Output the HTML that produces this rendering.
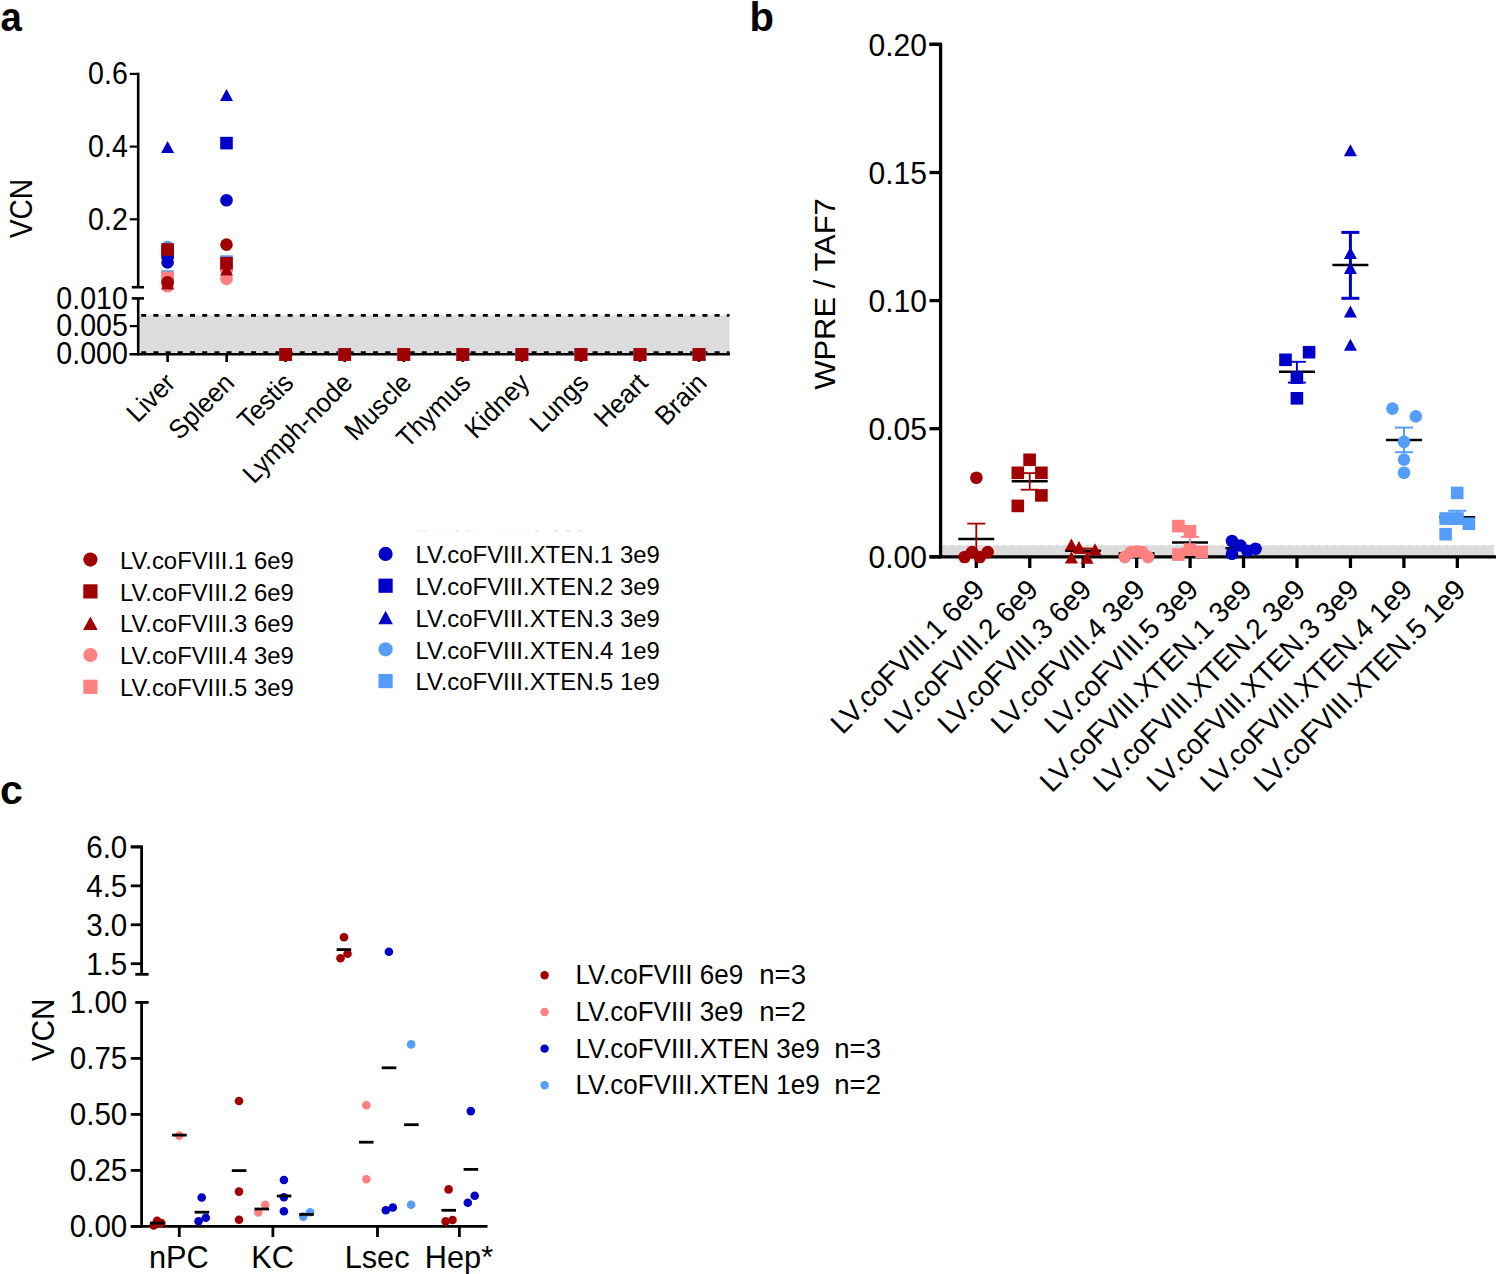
<!DOCTYPE html>
<html><head><meta charset="utf-8"><style>
html,body{margin:0;padding:0;background:#fff;}
svg{display:block;}
text{font-family:'Liberation Sans', sans-serif;}
</style></head><body>
<svg width="1496" height="1274" viewBox="0 0 1496 1274" style="font-family:'Liberation Sans', sans-serif">
<rect width="1496" height="1274" fill="#fff"/>
<text x="0" y="0" font-size="40" text-anchor="start" font-weight="bold" fill="#000" transform="translate(0.50 30.50) scale(0.9600 1.0000)">a</text>
<text x="0" y="0" font-size="29" text-anchor="middle" font-weight="normal" fill="#000" transform="translate(32.20 208.60) rotate(-90) scale(0.9700 1.0600)">VCN</text>
<rect x="139.20" y="315.3" width="590.30" height="38" fill="#dcdcdc"/>
<line x1="138.20" y1="315.40" x2="729.50" y2="315.40" stroke="#000" stroke-width="2.6" stroke-dasharray="5 7.2" stroke-dashoffset="-3"/>
<line x1="138.20" y1="352.60" x2="729.50" y2="352.60" stroke="#000" stroke-width="2.6" stroke-dasharray="5 7.2" stroke-dashoffset="-3"/>
<line x1="138.20" y1="72.70" x2="138.20" y2="287.40" stroke="#000" stroke-width="2.6" />
<line x1="138.20" y1="298.30" x2="138.20" y2="355.30" stroke="#000" stroke-width="2.6" />
<line x1="129.50" y1="354.20" x2="730.00" y2="354.20" stroke="#000" stroke-width="2.6" />
<line x1="129.80" y1="73.90" x2="138.20" y2="73.90" stroke="#000" stroke-width="2.2" />
<line x1="129.80" y1="146.60" x2="138.20" y2="146.60" stroke="#000" stroke-width="2.2" />
<line x1="129.80" y1="219.30" x2="138.20" y2="219.30" stroke="#000" stroke-width="2.2" />
<line x1="131.80" y1="287.20" x2="144.00" y2="287.20" stroke="#000" stroke-width="2.6" />
<line x1="131.80" y1="298.40" x2="144.00" y2="298.40" stroke="#000" stroke-width="2.6" />
<line x1="129.80" y1="326.10" x2="138.20" y2="326.10" stroke="#000" stroke-width="2.2" />
<line x1="167.60" y1="354.20" x2="167.60" y2="362.00" stroke="#000" stroke-width="2.6" />
<line x1="226.65" y1="354.20" x2="226.65" y2="362.00" stroke="#000" stroke-width="2.6" />
<line x1="285.70" y1="354.20" x2="285.70" y2="362.00" stroke="#000" stroke-width="2.6" />
<line x1="344.75" y1="354.20" x2="344.75" y2="362.00" stroke="#000" stroke-width="2.6" />
<line x1="403.80" y1="354.20" x2="403.80" y2="362.00" stroke="#000" stroke-width="2.6" />
<line x1="462.85" y1="354.20" x2="462.85" y2="362.00" stroke="#000" stroke-width="2.6" />
<line x1="521.90" y1="354.20" x2="521.90" y2="362.00" stroke="#000" stroke-width="2.6" />
<line x1="580.95" y1="354.20" x2="580.95" y2="362.00" stroke="#000" stroke-width="2.6" />
<line x1="640.00" y1="354.20" x2="640.00" y2="362.00" stroke="#000" stroke-width="2.6" />
<line x1="699.05" y1="354.20" x2="699.05" y2="362.00" stroke="#000" stroke-width="2.6" />
<text x="0" y="0" font-size="29" text-anchor="end" font-weight="normal" fill="#000" transform="translate(127.80 84.10) scale(0.9850 1.0650)">0.6</text>
<text x="0" y="0" font-size="29" text-anchor="end" font-weight="normal" fill="#000" transform="translate(127.80 156.80) scale(0.9850 1.0650)">0.4</text>
<text x="0" y="0" font-size="29" text-anchor="end" font-weight="normal" fill="#000" transform="translate(127.80 229.50) scale(0.9850 1.0650)">0.2</text>
<text x="0" y="0" font-size="29" text-anchor="end" font-weight="normal" fill="#000" transform="translate(127.80 308.60) scale(0.9850 1.0650)">0.010</text>
<text x="0" y="0" font-size="29" text-anchor="end" font-weight="normal" fill="#000" transform="translate(127.80 336.30) scale(0.9850 1.0650)">0.005</text>
<text x="0" y="0" font-size="29" text-anchor="end" font-weight="normal" fill="#000" transform="translate(127.80 364.40) scale(0.9850 1.0650)">0.000</text>
<text x="0" y="0" font-size="25.3" text-anchor="end" font-weight="normal" fill="#000" transform="translate(176.90 384.40) rotate(-45) scale(1.0150 1.0600)">Liver</text>
<text x="0" y="0" font-size="25.3" text-anchor="end" font-weight="normal" fill="#000" transform="translate(235.95 384.40) rotate(-45) scale(1.0150 1.0600)">Spleen</text>
<text x="0" y="0" font-size="25.3" text-anchor="end" font-weight="normal" fill="#000" transform="translate(295.00 384.40) rotate(-45) scale(1.0150 1.0600)">Testis</text>
<text x="0" y="0" font-size="25.3" text-anchor="end" font-weight="normal" fill="#000" transform="translate(354.05 384.40) rotate(-45) scale(1.0150 1.0600)">Lymph-node</text>
<text x="0" y="0" font-size="25.3" text-anchor="end" font-weight="normal" fill="#000" transform="translate(413.10 384.40) rotate(-45) scale(1.0150 1.0600)">Muscle</text>
<text x="0" y="0" font-size="25.3" text-anchor="end" font-weight="normal" fill="#000" transform="translate(472.15 384.40) rotate(-45) scale(1.0150 1.0600)">Thymus</text>
<text x="0" y="0" font-size="25.3" text-anchor="end" font-weight="normal" fill="#000" transform="translate(531.20 384.40) rotate(-45) scale(1.0150 1.0600)">Kidney</text>
<text x="0" y="0" font-size="25.3" text-anchor="end" font-weight="normal" fill="#000" transform="translate(590.25 384.40) rotate(-45) scale(1.0150 1.0600)">Lungs</text>
<text x="0" y="0" font-size="25.3" text-anchor="end" font-weight="normal" fill="#000" transform="translate(649.30 384.40) rotate(-45) scale(1.0150 1.0600)">Heart</text>
<text x="0" y="0" font-size="25.3" text-anchor="end" font-weight="normal" fill="#000" transform="translate(708.35 384.40) rotate(-45) scale(1.0150 1.0600)">Brain</text>
<rect x="161.30" y="270.20" width="12.60" height="12.60" fill="#549ef9"/>
<rect x="220.20" y="255.30" width="12.60" height="12.60" fill="#549ef9"/>
<rect x="279.40" y="348.10" width="12.60" height="12.60" fill="#549ef9"/>
<rect x="338.45" y="348.10" width="12.60" height="12.60" fill="#549ef9"/>
<rect x="397.50" y="348.10" width="12.60" height="12.60" fill="#549ef9"/>
<rect x="456.55" y="348.10" width="12.60" height="12.60" fill="#549ef9"/>
<rect x="515.60" y="348.10" width="12.60" height="12.60" fill="#549ef9"/>
<rect x="574.65" y="348.10" width="12.60" height="12.60" fill="#549ef9"/>
<rect x="633.70" y="348.10" width="12.60" height="12.60" fill="#549ef9"/>
<rect x="692.75" y="348.10" width="12.60" height="12.60" fill="#549ef9"/>
<circle cx="167.60" cy="247.00" r="6.30" fill="#549ef9"/>
<circle cx="226.50" cy="270.00" r="6.30" fill="#549ef9"/>
<circle cx="285.70" cy="354.40" r="6.30" fill="#549ef9"/>
<circle cx="344.75" cy="354.40" r="6.30" fill="#549ef9"/>
<circle cx="403.80" cy="354.40" r="6.30" fill="#549ef9"/>
<circle cx="462.85" cy="354.40" r="6.30" fill="#549ef9"/>
<circle cx="521.90" cy="354.40" r="6.30" fill="#549ef9"/>
<circle cx="580.95" cy="354.40" r="6.30" fill="#549ef9"/>
<circle cx="640.00" cy="354.40" r="6.30" fill="#549ef9"/>
<circle cx="699.05" cy="354.40" r="6.30" fill="#549ef9"/>
<polygon points="167.60,141.12 174.10,153.08 161.10,153.08" fill="#0000c8"/>
<polygon points="226.50,89.02 233.00,100.98 220.00,100.98" fill="#0000c8"/>
<polygon points="285.70,348.41 292.20,360.38 279.20,360.38" fill="#0000c8"/>
<polygon points="344.75,348.41 351.25,360.38 338.25,360.38" fill="#0000c8"/>
<polygon points="403.80,348.41 410.30,360.38 397.30,360.38" fill="#0000c8"/>
<polygon points="462.85,348.41 469.35,360.38 456.35,360.38" fill="#0000c8"/>
<polygon points="521.90,348.41 528.40,360.38 515.40,360.38" fill="#0000c8"/>
<polygon points="580.95,348.41 587.45,360.38 574.45,360.38" fill="#0000c8"/>
<polygon points="640.00,348.41 646.50,360.38 633.50,360.38" fill="#0000c8"/>
<polygon points="699.05,348.41 705.55,360.38 692.55,360.38" fill="#0000c8"/>
<rect x="161.30" y="246.50" width="12.60" height="12.60" fill="#0000c8"/>
<rect x="220.20" y="136.80" width="12.60" height="12.60" fill="#0000c8"/>
<rect x="279.40" y="348.10" width="12.60" height="12.60" fill="#0000c8"/>
<rect x="338.45" y="348.10" width="12.60" height="12.60" fill="#0000c8"/>
<rect x="397.50" y="348.10" width="12.60" height="12.60" fill="#0000c8"/>
<rect x="456.55" y="348.10" width="12.60" height="12.60" fill="#0000c8"/>
<rect x="515.60" y="348.10" width="12.60" height="12.60" fill="#0000c8"/>
<rect x="574.65" y="348.10" width="12.60" height="12.60" fill="#0000c8"/>
<rect x="633.70" y="348.10" width="12.60" height="12.60" fill="#0000c8"/>
<rect x="692.75" y="348.10" width="12.60" height="12.60" fill="#0000c8"/>
<circle cx="167.60" cy="262.40" r="6.30" fill="#0000c8"/>
<circle cx="226.50" cy="200.20" r="6.30" fill="#0000c8"/>
<circle cx="285.70" cy="354.40" r="6.30" fill="#0000c8"/>
<circle cx="344.75" cy="354.40" r="6.30" fill="#0000c8"/>
<circle cx="403.80" cy="354.40" r="6.30" fill="#0000c8"/>
<circle cx="462.85" cy="354.40" r="6.30" fill="#0000c8"/>
<circle cx="521.90" cy="354.40" r="6.30" fill="#0000c8"/>
<circle cx="580.95" cy="354.40" r="6.30" fill="#0000c8"/>
<circle cx="640.00" cy="354.40" r="6.30" fill="#0000c8"/>
<circle cx="699.05" cy="354.40" r="6.30" fill="#0000c8"/>
<rect x="161.30" y="271.50" width="12.60" height="12.60" fill="#ff8080"/>
<rect x="220.20" y="259.20" width="12.60" height="12.60" fill="#ff8080"/>
<rect x="279.40" y="348.10" width="12.60" height="12.60" fill="#ff8080"/>
<rect x="338.45" y="348.10" width="12.60" height="12.60" fill="#ff8080"/>
<rect x="397.50" y="348.10" width="12.60" height="12.60" fill="#ff8080"/>
<rect x="456.55" y="348.10" width="12.60" height="12.60" fill="#ff8080"/>
<rect x="515.60" y="348.10" width="12.60" height="12.60" fill="#ff8080"/>
<rect x="574.65" y="348.10" width="12.60" height="12.60" fill="#ff8080"/>
<rect x="633.70" y="348.10" width="12.60" height="12.60" fill="#ff8080"/>
<rect x="692.75" y="348.10" width="12.60" height="12.60" fill="#ff8080"/>
<circle cx="167.60" cy="286.30" r="6.30" fill="#ff8080"/>
<circle cx="226.50" cy="278.90" r="6.30" fill="#ff8080"/>
<circle cx="285.70" cy="354.40" r="6.30" fill="#ff8080"/>
<circle cx="344.75" cy="354.40" r="6.30" fill="#ff8080"/>
<circle cx="403.80" cy="354.40" r="6.30" fill="#ff8080"/>
<circle cx="462.85" cy="354.40" r="6.30" fill="#ff8080"/>
<circle cx="521.90" cy="354.40" r="6.30" fill="#ff8080"/>
<circle cx="580.95" cy="354.40" r="6.30" fill="#ff8080"/>
<circle cx="640.00" cy="354.40" r="6.30" fill="#ff8080"/>
<circle cx="699.05" cy="354.40" r="6.30" fill="#ff8080"/>
<polygon points="167.60,277.51 174.10,289.49 161.10,289.49" fill="#a00000"/>
<polygon points="226.50,263.51 233.00,275.49 220.00,275.49" fill="#a00000"/>
<polygon points="285.70,348.41 292.20,360.38 279.20,360.38" fill="#a00000"/>
<polygon points="344.75,348.41 351.25,360.38 338.25,360.38" fill="#a00000"/>
<polygon points="403.80,348.41 410.30,360.38 397.30,360.38" fill="#a00000"/>
<polygon points="462.85,348.41 469.35,360.38 456.35,360.38" fill="#a00000"/>
<polygon points="521.90,348.41 528.40,360.38 515.40,360.38" fill="#a00000"/>
<polygon points="580.95,348.41 587.45,360.38 574.45,360.38" fill="#a00000"/>
<polygon points="640.00,348.41 646.50,360.38 633.50,360.38" fill="#a00000"/>
<polygon points="699.05,348.41 705.55,360.38 692.55,360.38" fill="#a00000"/>
<rect x="161.30" y="243.20" width="12.60" height="12.60" fill="#a00000"/>
<rect x="220.20" y="256.90" width="12.60" height="12.60" fill="#a00000"/>
<rect x="279.40" y="348.10" width="12.60" height="12.60" fill="#a00000"/>
<rect x="338.45" y="348.10" width="12.60" height="12.60" fill="#a00000"/>
<rect x="397.50" y="348.10" width="12.60" height="12.60" fill="#a00000"/>
<rect x="456.55" y="348.10" width="12.60" height="12.60" fill="#a00000"/>
<rect x="515.60" y="348.10" width="12.60" height="12.60" fill="#a00000"/>
<rect x="574.65" y="348.10" width="12.60" height="12.60" fill="#a00000"/>
<rect x="633.70" y="348.10" width="12.60" height="12.60" fill="#a00000"/>
<rect x="692.75" y="348.10" width="12.60" height="12.60" fill="#a00000"/>
<circle cx="167.60" cy="282.20" r="6.30" fill="#a00000"/>
<circle cx="226.50" cy="244.60" r="6.30" fill="#a00000"/>
<circle cx="285.70" cy="354.40" r="6.30" fill="#a00000"/>
<circle cx="344.75" cy="354.40" r="6.30" fill="#a00000"/>
<circle cx="403.80" cy="354.40" r="6.30" fill="#a00000"/>
<circle cx="462.85" cy="354.40" r="6.30" fill="#a00000"/>
<circle cx="521.90" cy="354.40" r="6.30" fill="#a00000"/>
<circle cx="580.95" cy="354.40" r="6.30" fill="#a00000"/>
<circle cx="640.00" cy="354.40" r="6.30" fill="#a00000"/>
<circle cx="699.05" cy="354.40" r="6.30" fill="#a00000"/>
<circle cx="90.40" cy="559.60" r="7.10" fill="#a00000"/>
<text x="0" y="0" font-size="23" text-anchor="start" font-weight="normal" fill="#000" transform="translate(120.10 568.80) scale(1.0370 1.0500)">LV.coFVIII.1 6e9</text>
<rect x="83.30" y="584.30" width="14.20" height="14.20" fill="#a00000"/>
<text x="0" y="0" font-size="23" text-anchor="start" font-weight="normal" fill="#000" transform="translate(120.10 600.60) scale(1.0370 1.0500)">LV.coFVIII.2 6e9</text>
<polygon points="90.40,616.46 97.70,629.95 83.10,629.95" fill="#a00000"/>
<text x="0" y="0" font-size="23" text-anchor="start" font-weight="normal" fill="#000" transform="translate(120.10 632.40) scale(1.0370 1.0500)">LV.coFVIII.3 6e9</text>
<circle cx="90.40" cy="655.00" r="7.10" fill="#ff8080"/>
<text x="0" y="0" font-size="23" text-anchor="start" font-weight="normal" fill="#000" transform="translate(120.10 664.20) scale(1.0370 1.0500)">LV.coFVIII.4 3e9</text>
<rect x="83.30" y="679.70" width="14.20" height="14.20" fill="#ff8080"/>
<text x="0" y="0" font-size="23" text-anchor="start" font-weight="normal" fill="#000" transform="translate(120.10 696.00) scale(1.0370 1.0500)">LV.coFVIII.5 3e9</text>
<circle cx="385.60" cy="553.90" r="7.10" fill="#0000c8"/>
<text x="0" y="0" font-size="23" text-anchor="start" font-weight="normal" fill="#000" transform="translate(415.40 563.10) scale(1.0400 1.0500)">LV.coFVIII.XTEN.1 3e9</text>
<rect x="378.50" y="578.60" width="14.20" height="14.20" fill="#0000c8"/>
<text x="0" y="0" font-size="23" text-anchor="start" font-weight="normal" fill="#000" transform="translate(415.40 594.90) scale(1.0400 1.0500)">LV.coFVIII.XTEN.2 3e9</text>
<polygon points="385.60,610.75 392.90,624.25 378.30,624.25" fill="#0000c8"/>
<text x="0" y="0" font-size="23" text-anchor="start" font-weight="normal" fill="#000" transform="translate(415.40 626.70) scale(1.0400 1.0500)">LV.coFVIII.XTEN.3 3e9</text>
<circle cx="385.60" cy="649.30" r="7.10" fill="#549ef9"/>
<text x="0" y="0" font-size="23" text-anchor="start" font-weight="normal" fill="#000" transform="translate(415.40 658.50) scale(1.0400 1.0500)">LV.coFVIII.XTEN.4 1e9</text>
<rect x="378.50" y="674.00" width="14.20" height="14.20" fill="#549ef9"/>
<text x="0" y="0" font-size="23" text-anchor="start" font-weight="normal" fill="#000" transform="translate(415.40 690.30) scale(1.0400 1.0500)">LV.coFVIII.XTEN.5 1e9</text>
<rect x="418" y="530" width="10" height="1.6" fill="#f2f2f2"/>
<rect x="437" y="530" width="1.2" height="1.6" fill="#f0f0f0"/>
<rect x="447" y="530" width="1.2" height="1.6" fill="#f0f0f0"/>
<rect x="455.5" y="530" width="3.3" height="1.6" fill="#e6e6e6"/>
<rect x="466.8" y="530" width="3.4" height="1.6" fill="#e6e6e6"/>
<rect x="478" y="530" width="1.2" height="1.6" fill="#f0f0f0"/>
<rect x="496" y="530" width="1.2" height="1.6" fill="#f2f2f2"/>
<rect x="507.3" y="530" width="1.2" height="1.6" fill="#f0f0f0"/>
<rect x="514" y="530" width="1.2" height="1.6" fill="#f0f0f0"/>
<rect x="520.8" y="530" width="1.2" height="1.6" fill="#f0f0f0"/>
<rect x="527.5" y="530" width="1.2" height="1.6" fill="#f0f0f0"/>
<rect x="535" y="530" width="3.4" height="1.6" fill="#e6e6e6"/>
<rect x="553.7" y="530" width="4.1" height="1.6" fill="#e6e6e6"/>
<rect x="566.4" y="530" width="4.1" height="1.6" fill="#e6e6e6"/>
<rect x="579.1" y="530" width="3.4" height="1.6" fill="#e6e6e6"/>
<text x="0" y="0" font-size="40" text-anchor="start" font-weight="bold" fill="#000" transform="translate(749.50 30.50)">b</text>
<rect x="942.10" y="545.4" width="551.90" height="11.4" fill="#dcdcdc"/>
<line x1="943.60" y1="545.60" x2="1494.00" y2="545.60" stroke="#c8c8c8" stroke-width="1.0" stroke-dasharray="1.5 6"/>
<line x1="940.60" y1="44.30" x2="940.60" y2="558.30" stroke="#000" stroke-width="3.3" />
<line x1="929.50" y1="44.30" x2="942.10" y2="44.30" stroke="#000" stroke-width="3.3" />
<line x1="929.50" y1="44.40" x2="940.60" y2="44.40" stroke="#000" stroke-width="3.3" />
<text x="0" y="0" font-size="29.5" text-anchor="end" font-weight="normal" fill="#000" transform="translate(927.00 55.70) scale(1.0200 1.0900)">0.20</text>
<line x1="929.50" y1="172.50" x2="940.60" y2="172.50" stroke="#000" stroke-width="3.3" />
<text x="0" y="0" font-size="29.5" text-anchor="end" font-weight="normal" fill="#000" transform="translate(927.00 183.80) scale(1.0200 1.0900)">0.15</text>
<line x1="929.50" y1="300.60" x2="940.60" y2="300.60" stroke="#000" stroke-width="3.3" />
<text x="0" y="0" font-size="29.5" text-anchor="end" font-weight="normal" fill="#000" transform="translate(927.00 311.90) scale(1.0200 1.0900)">0.10</text>
<line x1="929.50" y1="428.70" x2="940.60" y2="428.70" stroke="#000" stroke-width="3.3" />
<text x="0" y="0" font-size="29.5" text-anchor="end" font-weight="normal" fill="#000" transform="translate(927.00 440.00) scale(1.0200 1.0900)">0.05</text>
<line x1="929.50" y1="556.80" x2="940.60" y2="556.80" stroke="#000" stroke-width="3.3" />
<text x="0" y="0" font-size="29.5" text-anchor="end" font-weight="normal" fill="#000" transform="translate(927.00 568.10) scale(1.0200 1.0900)">0.00</text>
<line x1="929.50" y1="556.80" x2="1496.00" y2="556.80" stroke="#000" stroke-width="3.3" />
<text x="0" y="0" font-size="29.5" text-anchor="middle" font-weight="normal" fill="#000" transform="translate(834.80 294.00) rotate(-90) scale(1.0510 0.9750)">WPRE / TAF7</text>
<line x1="976.30" y1="556.80" x2="976.30" y2="568.00" stroke="#000" stroke-width="3.3" />
<line x1="1029.75" y1="556.80" x2="1029.75" y2="568.00" stroke="#000" stroke-width="3.3" />
<line x1="1083.20" y1="556.80" x2="1083.20" y2="568.00" stroke="#000" stroke-width="3.3" />
<line x1="1136.65" y1="556.80" x2="1136.65" y2="568.00" stroke="#000" stroke-width="3.3" />
<line x1="1190.10" y1="556.80" x2="1190.10" y2="568.00" stroke="#000" stroke-width="3.3" />
<line x1="1243.55" y1="556.80" x2="1243.55" y2="568.00" stroke="#000" stroke-width="3.3" />
<line x1="1297.00" y1="556.80" x2="1297.00" y2="568.00" stroke="#000" stroke-width="3.3" />
<line x1="1350.45" y1="556.80" x2="1350.45" y2="568.00" stroke="#000" stroke-width="3.3" />
<line x1="1403.90" y1="556.80" x2="1403.90" y2="568.00" stroke="#000" stroke-width="3.3" />
<line x1="1457.35" y1="556.80" x2="1457.35" y2="568.00" stroke="#000" stroke-width="3.3" />
<text x="0" y="0" font-size="26.5" text-anchor="end" font-weight="normal" fill="#000" transform="translate(986.30 591.50) rotate(-45) scale(1.0540 1.0800)">LV.coFVIII.1 6e9</text>
<text x="0" y="0" font-size="26.5" text-anchor="end" font-weight="normal" fill="#000" transform="translate(1039.75 591.50) rotate(-45) scale(1.0540 1.0800)">LV.coFVIII.2 6e9</text>
<text x="0" y="0" font-size="26.5" text-anchor="end" font-weight="normal" fill="#000" transform="translate(1093.20 591.50) rotate(-45) scale(1.0540 1.0800)">LV.coFVIII.3 6e9</text>
<text x="0" y="0" font-size="26.5" text-anchor="end" font-weight="normal" fill="#000" transform="translate(1146.65 591.50) rotate(-45) scale(1.0540 1.0800)">LV.coFVIII.4 3e9</text>
<text x="0" y="0" font-size="26.5" text-anchor="end" font-weight="normal" fill="#000" transform="translate(1200.10 591.50) rotate(-45) scale(1.0540 1.0800)">LV.coFVIII.5 3e9</text>
<text x="0" y="0" font-size="26.5" text-anchor="end" font-weight="normal" fill="#000" transform="translate(1253.55 591.50) rotate(-45) scale(1.0540 1.0800)">LV.coFVIII.XTEN.1 3e9</text>
<text x="0" y="0" font-size="26.5" text-anchor="end" font-weight="normal" fill="#000" transform="translate(1307.00 591.50) rotate(-45) scale(1.0540 1.0800)">LV.coFVIII.XTEN.2 3e9</text>
<text x="0" y="0" font-size="26.5" text-anchor="end" font-weight="normal" fill="#000" transform="translate(1360.45 591.50) rotate(-45) scale(1.0540 1.0800)">LV.coFVIII.XTEN.3 3e9</text>
<text x="0" y="0" font-size="26.5" text-anchor="end" font-weight="normal" fill="#000" transform="translate(1413.90 591.50) rotate(-45) scale(1.0540 1.0800)">LV.coFVIII.XTEN.4 1e9</text>
<text x="0" y="0" font-size="26.5" text-anchor="end" font-weight="normal" fill="#000" transform="translate(1467.35 591.50) rotate(-45) scale(1.0540 1.0800)">LV.coFVIII.XTEN.5 1e9</text>
<line x1="958.30" y1="539.10" x2="994.30" y2="539.10" stroke="#000" stroke-width="2.5" />
<line x1="976.30" y1="523.60" x2="976.30" y2="554.60" stroke="#a00000" stroke-width="1.8" />
<line x1="967.30" y1="523.60" x2="985.30" y2="523.60" stroke="#a00000" stroke-width="1.8" />
<line x1="967.30" y1="554.60" x2="985.30" y2="554.60" stroke="#a00000" stroke-width="1.8" />
<circle cx="976.40" cy="477.80" r="6.30" fill="#a00000"/>
<circle cx="964.60" cy="557.00" r="6.30" fill="#a00000"/>
<circle cx="972.00" cy="552.10" r="6.30" fill="#a00000"/>
<circle cx="979.80" cy="557.00" r="6.30" fill="#a00000"/>
<circle cx="987.70" cy="552.10" r="6.30" fill="#a00000"/>
<line x1="1011.70" y1="481.20" x2="1047.70" y2="481.20" stroke="#000" stroke-width="2.5" />
<line x1="1029.70" y1="473.10" x2="1029.70" y2="489.70" stroke="#a00000" stroke-width="1.8" />
<line x1="1020.70" y1="473.10" x2="1038.70" y2="473.10" stroke="#a00000" stroke-width="1.8" />
<line x1="1020.70" y1="489.70" x2="1038.70" y2="489.70" stroke="#a00000" stroke-width="1.8" />
<rect x="1023.30" y="453.50" width="12.60" height="12.60" fill="#a00000"/>
<rect x="1011.50" y="466.50" width="12.60" height="12.60" fill="#a00000"/>
<rect x="1035.10" y="466.50" width="12.60" height="12.60" fill="#a00000"/>
<rect x="1035.10" y="489.10" width="12.60" height="12.60" fill="#a00000"/>
<rect x="1011.50" y="499.60" width="12.60" height="12.60" fill="#a00000"/>
<line x1="1065.10" y1="550.70" x2="1101.10" y2="550.70" stroke="#000" stroke-width="2.5" />
<line x1="1083.10" y1="548.50" x2="1083.10" y2="553.00" stroke="#a00000" stroke-width="1.8" />
<line x1="1074.10" y1="548.50" x2="1092.10" y2="548.50" stroke="#a00000" stroke-width="1.8" />
<line x1="1074.10" y1="553.00" x2="1092.10" y2="553.00" stroke="#a00000" stroke-width="1.8" />
<polygon points="1071.40,538.51 1077.90,550.49 1064.90,550.49" fill="#a00000"/>
<polygon points="1079.00,541.01 1085.50,552.99 1072.50,552.99" fill="#a00000"/>
<polygon points="1095.00,543.22 1101.50,555.19 1088.50,555.19" fill="#a00000"/>
<polygon points="1071.40,551.51 1077.90,563.49 1064.90,563.49" fill="#a00000"/>
<polygon points="1087.10,551.72 1093.60,563.69 1080.60,563.69" fill="#a00000"/>
<line x1="1118.60" y1="553.60" x2="1154.60" y2="553.60" stroke="#000" stroke-width="2.5" />
<circle cx="1124.80" cy="557.10" r="6.30" fill="#ff8080"/>
<circle cx="1131.00" cy="552.00" r="6.30" fill="#ff8080"/>
<circle cx="1142.40" cy="552.00" r="6.30" fill="#ff8080"/>
<circle cx="1148.10" cy="557.10" r="6.30" fill="#ff8080"/>
<circle cx="1136.60" cy="551.50" r="6.30" fill="#ff8080"/>
<line x1="1172.00" y1="542.60" x2="1208.00" y2="542.60" stroke="#000" stroke-width="2.5" />
<line x1="1190.00" y1="536.90" x2="1190.00" y2="548.30" stroke="#ff8080" stroke-width="1.8" />
<line x1="1181.00" y1="536.90" x2="1199.00" y2="536.90" stroke="#ff8080" stroke-width="1.8" />
<line x1="1181.00" y1="548.30" x2="1199.00" y2="548.30" stroke="#ff8080" stroke-width="1.8" />
<rect x="1172.10" y="519.80" width="12.60" height="12.60" fill="#ff8080"/>
<rect x="1183.70" y="524.90" width="12.60" height="12.60" fill="#ff8080"/>
<rect x="1183.70" y="543.40" width="12.60" height="12.60" fill="#ff8080"/>
<rect x="1195.30" y="545.70" width="12.60" height="12.60" fill="#ff8080"/>
<rect x="1172.10" y="548.30" width="12.60" height="12.60" fill="#ff8080"/>
<line x1="1225.50" y1="548.20" x2="1261.50" y2="548.20" stroke="#000" stroke-width="2.5" />
<circle cx="1232.00" cy="541.00" r="6.30" fill="#0000c8"/>
<circle cx="1240.40" cy="545.50" r="6.30" fill="#0000c8"/>
<circle cx="1247.30" cy="550.80" r="6.30" fill="#0000c8"/>
<circle cx="1255.50" cy="548.80" r="6.30" fill="#0000c8"/>
<circle cx="1232.00" cy="553.70" r="6.30" fill="#0000c8"/>
<line x1="1278.90" y1="371.80" x2="1314.90" y2="371.80" stroke="#000" stroke-width="2.5" />
<line x1="1296.90" y1="361.80" x2="1296.90" y2="382.60" stroke="#0000c8" stroke-width="1.9" />
<line x1="1287.90" y1="361.80" x2="1305.90" y2="361.80" stroke="#0000c8" stroke-width="1.9" />
<line x1="1287.90" y1="382.60" x2="1305.90" y2="382.60" stroke="#0000c8" stroke-width="1.9" />
<rect x="1279.20" y="353.50" width="12.60" height="12.60" fill="#0000c8"/>
<rect x="1302.80" y="345.90" width="12.60" height="12.60" fill="#0000c8"/>
<rect x="1290.60" y="371.40" width="12.60" height="12.60" fill="#0000c8"/>
<rect x="1290.60" y="392.00" width="12.60" height="12.60" fill="#0000c8"/>
<line x1="1332.40" y1="265.00" x2="1368.40" y2="265.00" stroke="#000" stroke-width="2.5" />
<line x1="1350.40" y1="232.40" x2="1350.40" y2="298.30" stroke="#0000c8" stroke-width="3.0" />
<line x1="1341.40" y1="232.40" x2="1359.40" y2="232.40" stroke="#0000c8" stroke-width="3.0" />
<line x1="1341.40" y1="298.30" x2="1359.40" y2="298.30" stroke="#0000c8" stroke-width="3.0" />
<polygon points="1350.40,144.31 1356.90,156.29 1343.90,156.29" fill="#0000c8"/>
<polygon points="1350.40,246.92 1356.90,258.88 1343.90,258.88" fill="#0000c8"/>
<polygon points="1350.40,261.91 1356.90,273.88 1343.90,273.88" fill="#0000c8"/>
<polygon points="1350.40,305.62 1356.90,317.59 1343.90,317.59" fill="#0000c8"/>
<polygon points="1350.40,338.81 1356.90,350.79 1343.90,350.79" fill="#0000c8"/>
<line x1="1386.00" y1="440.00" x2="1422.00" y2="440.00" stroke="#000" stroke-width="2.5" />
<line x1="1404.00" y1="427.60" x2="1404.00" y2="452.20" stroke="#549ef9" stroke-width="2.0" />
<line x1="1395.00" y1="427.60" x2="1413.00" y2="427.60" stroke="#549ef9" stroke-width="2.0" />
<line x1="1395.00" y1="452.20" x2="1413.00" y2="452.20" stroke="#549ef9" stroke-width="2.0" />
<circle cx="1392.40" cy="408.60" r="6.30" fill="#549ef9"/>
<circle cx="1415.80" cy="416.40" r="6.30" fill="#549ef9"/>
<circle cx="1404.00" cy="441.90" r="6.30" fill="#549ef9"/>
<circle cx="1404.00" cy="459.60" r="6.30" fill="#549ef9"/>
<circle cx="1404.00" cy="472.80" r="6.30" fill="#549ef9"/>
<line x1="1439.20" y1="517.20" x2="1475.20" y2="517.20" stroke="#000" stroke-width="2.5" />
<line x1="1457.20" y1="510.80" x2="1457.20" y2="523.60" stroke="#549ef9" stroke-width="2.0" />
<line x1="1448.20" y1="510.80" x2="1466.20" y2="510.80" stroke="#549ef9" stroke-width="2.0" />
<line x1="1448.20" y1="523.60" x2="1466.20" y2="523.60" stroke="#549ef9" stroke-width="2.0" />
<rect x="1450.90" y="486.60" width="12.60" height="12.60" fill="#549ef9"/>
<rect x="1439.30" y="512.20" width="12.60" height="12.60" fill="#549ef9"/>
<rect x="1451.20" y="512.20" width="12.60" height="12.60" fill="#549ef9"/>
<rect x="1462.60" y="517.50" width="12.60" height="12.60" fill="#549ef9"/>
<rect x="1439.30" y="527.90" width="12.60" height="12.60" fill="#549ef9"/>
<text x="0" y="0" font-size="40" text-anchor="start" font-weight="bold" fill="#000" transform="translate(0.00 804.20) scale(1.0300 1.0000)">c</text>
<text x="0" y="0" font-size="29.5" text-anchor="middle" font-weight="normal" fill="#000" transform="translate(54.00 1029.90) rotate(-90) scale(1.0100 1.0500)">VCN</text>
<line x1="141.60" y1="845.70" x2="141.60" y2="974.30" stroke="#000" stroke-width="2.8" />
<line x1="141.60" y1="1002.40" x2="141.60" y2="1227.60" stroke="#000" stroke-width="2.8" />
<line x1="130.80" y1="846.91" x2="141.60" y2="846.91" stroke="#000" stroke-width="2.8" />
<text x="0" y="0" font-size="29" text-anchor="end" font-weight="normal" fill="#000" transform="translate(127.30 857.81) scale(1.0200 1.1000)">6.0</text>
<line x1="130.80" y1="885.84" x2="141.60" y2="885.84" stroke="#000" stroke-width="2.8" />
<text x="0" y="0" font-size="29" text-anchor="end" font-weight="normal" fill="#000" transform="translate(127.30 896.74) scale(1.0200 1.1000)">4.5</text>
<line x1="130.80" y1="924.77" x2="141.60" y2="924.77" stroke="#000" stroke-width="2.8" />
<text x="0" y="0" font-size="29" text-anchor="end" font-weight="normal" fill="#000" transform="translate(127.30 935.67) scale(1.0200 1.1000)">3.0</text>
<line x1="130.80" y1="963.70" x2="141.60" y2="963.70" stroke="#000" stroke-width="2.8" />
<text x="0" y="0" font-size="29" text-anchor="end" font-weight="normal" fill="#000" transform="translate(127.30 974.60) scale(1.0200 1.1000)">1.5</text>
<line x1="130.80" y1="846.90" x2="142.80" y2="846.90" stroke="#000" stroke-width="2.8" />
<line x1="135.30" y1="974.30" x2="148.60" y2="974.30" stroke="#000" stroke-width="2.8" />
<line x1="135.30" y1="1002.40" x2="148.60" y2="1002.40" stroke="#000" stroke-width="2.8" />
<text x="0" y="0" font-size="29" text-anchor="end" font-weight="normal" fill="#000" transform="translate(127.30 1013.30) scale(1.0200 1.1000)">1.00</text>
<line x1="130.80" y1="1058.40" x2="141.60" y2="1058.40" stroke="#000" stroke-width="2.8" />
<text x="0" y="0" font-size="29" text-anchor="end" font-weight="normal" fill="#000" transform="translate(127.30 1069.30) scale(1.0200 1.1000)">0.75</text>
<line x1="130.80" y1="1114.40" x2="141.60" y2="1114.40" stroke="#000" stroke-width="2.8" />
<text x="0" y="0" font-size="29" text-anchor="end" font-weight="normal" fill="#000" transform="translate(127.30 1125.30) scale(1.0200 1.1000)">0.50</text>
<line x1="130.80" y1="1170.40" x2="141.60" y2="1170.40" stroke="#000" stroke-width="2.8" />
<text x="0" y="0" font-size="29" text-anchor="end" font-weight="normal" fill="#000" transform="translate(127.30 1181.30) scale(1.0200 1.1000)">0.25</text>
<line x1="130.80" y1="1226.40" x2="141.60" y2="1226.40" stroke="#000" stroke-width="2.8" />
<text x="0" y="0" font-size="29" text-anchor="end" font-weight="normal" fill="#000" transform="translate(127.30 1237.30) scale(1.0200 1.1000)">0.00</text>
<line x1="130.80" y1="1226.40" x2="487.50" y2="1226.40" stroke="#000" stroke-width="2.8" />
<line x1="179.30" y1="1226.40" x2="179.30" y2="1237.00" stroke="#000" stroke-width="2.8" />
<text x="0" y="0" font-size="29" text-anchor="middle" font-weight="normal" fill="#000" transform="translate(178.90 1268.40) scale(1.0600 1.1000)">nPC</text>
<line x1="272.90" y1="1226.40" x2="272.90" y2="1237.00" stroke="#000" stroke-width="2.8" />
<text x="0" y="0" font-size="29" text-anchor="middle" font-weight="normal" fill="#000" transform="translate(272.50 1268.40) scale(1.0600 1.1000)">KC</text>
<line x1="377.50" y1="1226.40" x2="377.50" y2="1237.00" stroke="#000" stroke-width="2.8" />
<text x="0" y="0" font-size="29" text-anchor="middle" font-weight="normal" fill="#000" transform="translate(377.10 1268.40) scale(1.0600 1.1000)">Lsec</text>
<line x1="459.40" y1="1226.40" x2="459.40" y2="1237.00" stroke="#000" stroke-width="2.8" />
<text x="0" y="0" font-size="29" text-anchor="middle" font-weight="normal" fill="#000" transform="translate(459.00 1268.40) scale(1.0600 1.1000)">Hep*</text>
<circle cx="153.70" cy="1225.40" r="4.30" fill="#a00000"/>
<circle cx="157.10" cy="1220.80" r="4.30" fill="#a00000"/>
<circle cx="161.30" cy="1223.10" r="4.30" fill="#a00000"/>
<line x1="149.90" y1="1223.10" x2="164.50" y2="1223.10" stroke="#000" stroke-width="2.8" />
<circle cx="179.30" cy="1135.60" r="4.30" fill="#ff8080"/>
<line x1="172.10" y1="1135.10" x2="186.70" y2="1135.10" stroke="#000" stroke-width="2.8" />
<circle cx="201.70" cy="1197.50" r="4.30" fill="#0000c8"/>
<circle cx="205.80" cy="1217.80" r="4.30" fill="#0000c8"/>
<circle cx="198.60" cy="1221.30" r="4.30" fill="#0000c8"/>
<line x1="194.60" y1="1212.20" x2="209.20" y2="1212.20" stroke="#000" stroke-width="2.8" />
<circle cx="239.00" cy="1101.00" r="4.30" fill="#a00000"/>
<circle cx="239.00" cy="1191.60" r="4.30" fill="#a00000"/>
<circle cx="239.00" cy="1219.80" r="4.30" fill="#a00000"/>
<line x1="231.80" y1="1170.60" x2="246.40" y2="1170.60" stroke="#000" stroke-width="2.8" />
<circle cx="265.20" cy="1204.80" r="4.30" fill="#ff8080"/>
<circle cx="258.30" cy="1212.50" r="4.30" fill="#ff8080"/>
<line x1="254.50" y1="1209.00" x2="269.10" y2="1209.00" stroke="#000" stroke-width="2.8" />
<circle cx="283.90" cy="1180.00" r="4.30" fill="#0000c8"/>
<circle cx="283.90" cy="1197.20" r="4.30" fill="#0000c8"/>
<circle cx="283.90" cy="1211.20" r="4.30" fill="#0000c8"/>
<line x1="276.80" y1="1196.00" x2="291.40" y2="1196.00" stroke="#000" stroke-width="2.8" />
<circle cx="303.20" cy="1216.60" r="4.30" fill="#549ef9"/>
<circle cx="310.10" cy="1212.20" r="4.30" fill="#549ef9"/>
<line x1="299.20" y1="1214.40" x2="313.80" y2="1214.40" stroke="#000" stroke-width="2.8" />
<circle cx="344.00" cy="937.20" r="4.30" fill="#a00000"/>
<circle cx="347.50" cy="953.80" r="4.30" fill="#a00000"/>
<circle cx="340.50" cy="958.30" r="4.30" fill="#a00000"/>
<line x1="336.60" y1="949.60" x2="351.20" y2="949.60" stroke="#000" stroke-width="2.8" />
<circle cx="366.40" cy="1105.30" r="4.30" fill="#ff8080"/>
<circle cx="366.40" cy="1179.20" r="4.30" fill="#ff8080"/>
<line x1="358.90" y1="1142.20" x2="373.50" y2="1142.20" stroke="#000" stroke-width="2.8" />
<circle cx="388.90" cy="951.70" r="4.30" fill="#0000c8"/>
<circle cx="385.80" cy="1210.30" r="4.30" fill="#0000c8"/>
<circle cx="392.80" cy="1207.50" r="4.30" fill="#0000c8"/>
<line x1="381.70" y1="1067.80" x2="396.30" y2="1067.80" stroke="#000" stroke-width="2.8" />
<circle cx="411.10" cy="1044.40" r="4.30" fill="#549ef9"/>
<circle cx="411.10" cy="1204.70" r="4.30" fill="#549ef9"/>
<line x1="404.10" y1="1124.70" x2="418.70" y2="1124.70" stroke="#000" stroke-width="2.8" />
<circle cx="448.60" cy="1189.40" r="4.30" fill="#a00000"/>
<circle cx="445.60" cy="1221.40" r="4.30" fill="#a00000"/>
<circle cx="452.50" cy="1220.00" r="4.30" fill="#a00000"/>
<line x1="441.40" y1="1210.30" x2="456.00" y2="1210.30" stroke="#000" stroke-width="2.8" />
<circle cx="470.80" cy="1111.10" r="4.30" fill="#0000c8"/>
<circle cx="474.70" cy="1195.80" r="4.30" fill="#0000c8"/>
<circle cx="467.80" cy="1202.80" r="4.30" fill="#0000c8"/>
<line x1="463.60" y1="1169.40" x2="478.20" y2="1169.40" stroke="#000" stroke-width="2.8" />
<circle cx="544.60" cy="975.30" r="4.20" fill="#a00000"/>
<text x="0" y="0" font-size="24.3" text-anchor="start" font-weight="normal" fill="#000" transform="translate(575.50 984.30) scale(1.0700 1.1260)">LV.coFVIII 6e9</text>
<text x="0" y="0" font-size="24.3" text-anchor="start" font-weight="normal" fill="#000" transform="translate(759.20 984.30) scale(1.1350 1.1260)">n=3</text>
<circle cx="544.60" cy="1011.97" r="4.20" fill="#ff8080"/>
<text x="0" y="0" font-size="24.3" text-anchor="start" font-weight="normal" fill="#000" transform="translate(575.50 1020.97) scale(1.0700 1.1260)">LV.coFVIII 3e9</text>
<text x="0" y="0" font-size="24.3" text-anchor="start" font-weight="normal" fill="#000" transform="translate(759.20 1020.97) scale(1.1350 1.1260)">n=2</text>
<circle cx="544.60" cy="1048.64" r="4.20" fill="#0000c8"/>
<text x="0" y="0" font-size="24.3" text-anchor="start" font-weight="normal" fill="#000" transform="translate(575.50 1057.64) scale(1.0700 1.1260)">LV.coFVIII.XTEN 3e9</text>
<text x="0" y="0" font-size="24.3" text-anchor="start" font-weight="normal" fill="#000" transform="translate(834.20 1057.64) scale(1.1350 1.1260)">n=3</text>
<circle cx="544.60" cy="1085.31" r="4.20" fill="#549ef9"/>
<text x="0" y="0" font-size="24.3" text-anchor="start" font-weight="normal" fill="#000" transform="translate(575.50 1094.31) scale(1.0700 1.1260)">LV.coFVIII.XTEN 1e9</text>
<text x="0" y="0" font-size="24.3" text-anchor="start" font-weight="normal" fill="#000" transform="translate(834.20 1094.31) scale(1.1350 1.1260)">n=2</text>
</svg></body></html>
